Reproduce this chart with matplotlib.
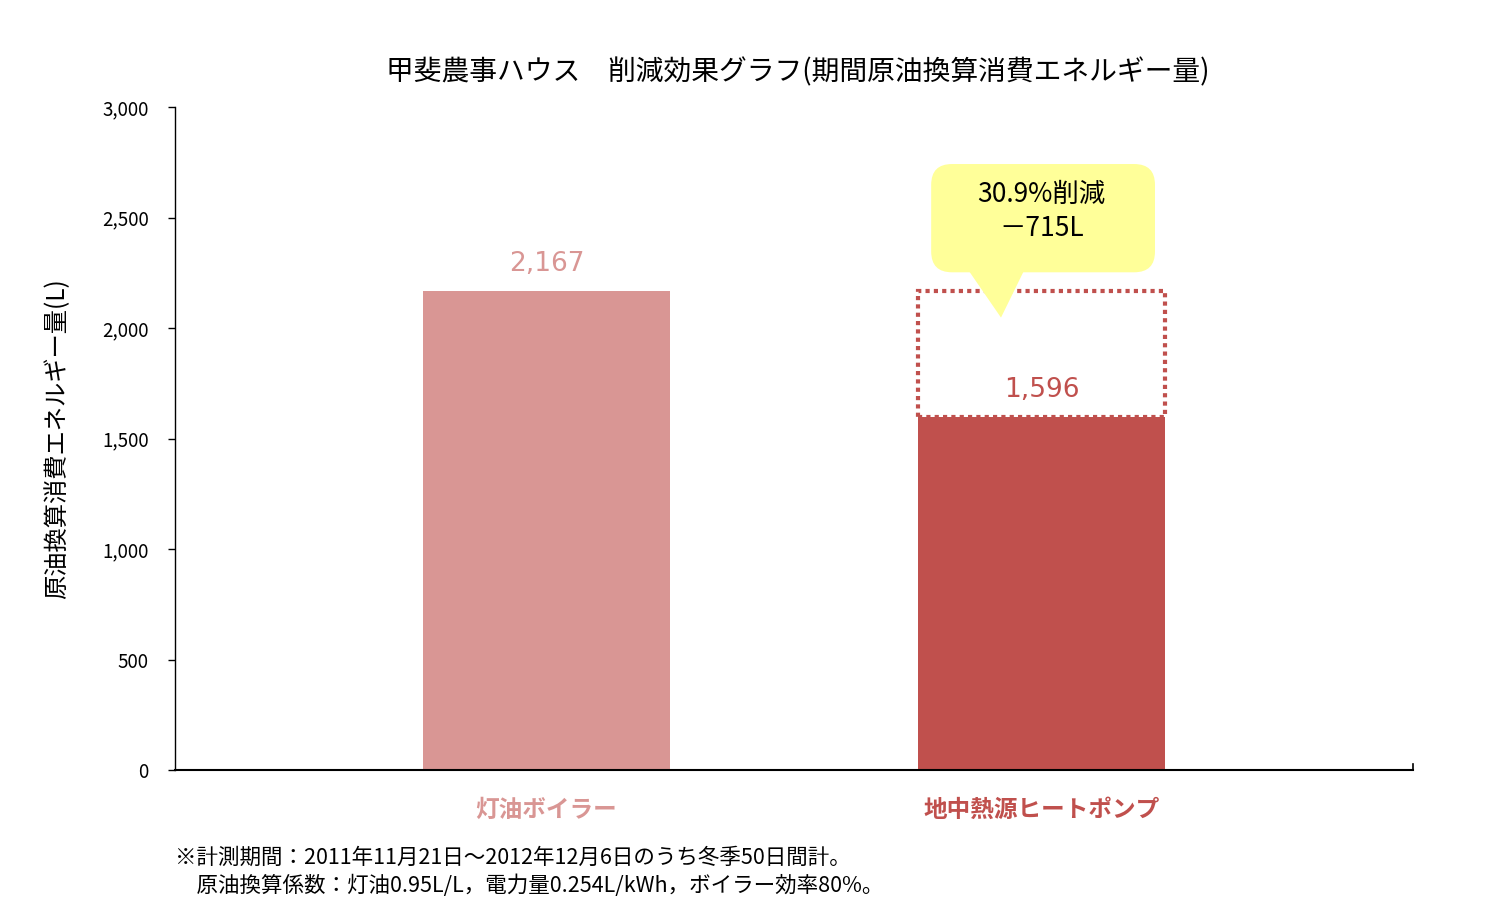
import matplotlib
matplotlib.use('Agg')
import matplotlib.pyplot as plt
from matplotlib.patches import Rectangle, FancyBboxPatch, Polygon
from matplotlib.ticker import FuncFormatter

plt.rcParams['font.family'] = ['Noto Sans CJK JP', 'DejaVu Sans']

# data
categories = ['灯油ボイラー', '地中熱源ヒートポンプ']
values = [2167, 1596]
bar_colors = ['#D99694', '#C0504D']
reduction_pct = 30.9
reduction_l = 715

title = '甲斐農事ハウス　削減効果グラフ(期間原油換算消費エネルギー量)'
ylabel = '原油換算消費エネルギー量(L)'
notes = ['※計測期間：2011年11月21日～2012年12月6日のうち冬季50日間計。',
         '　原油換算係数：灯油0.95L/L，電力量0.254L/kWh，ボイラー効率80%。']

fig = plt.figure(figsize=(15.11, 9.22), dpi=100)
ax = fig.add_axes([175/1511, 1-770/922, 1238/1511, 663/922])

x = list(range(len(categories)))
bw = 0.5
ax.bar(x, values, width=bw, color=bar_colors, zorder=2)

ax.set_xlim(-0.75, 1.75)
ax.set_ylim(0, 3000)
ax.set_yticks(range(0, 3001, 500))
ax.yaxis.set_major_formatter(FuncFormatter(lambda v, p: f'{int(v):,}'))
ax.tick_params(axis='y', direction='out', length=5, width=1, labelsize=13.5, pad=14)
ax.set_xticks([])
for s in ['top', 'right']:
    ax.spines[s].set_visible(False)
ax.spines['left'].set_linewidth(1)
ax.spines['bottom'].set_linewidth(1.5)
# small tick at right end of category axis
ax.plot([1.75, 1.75], [0, 25], color='black', lw=1.2, clip_on=False)

# value labels
for xi, v, c in zip(x, values, bar_colors):
    ax.annotate(f'{v:,}', (xi, v), xytext=(0, 10), textcoords='offset points',
                ha='center', va='bottom', fontsize=19, color=c,
                family=['DejaVu Sans'])

# category labels
for xi, cat, c in zip(x, categories, bar_colors):
    ax.annotate(cat, (xi, 0), xytext=(0, -20), textcoords='offset points',
                ha='center', va='top', fontsize=17, color=c, fontweight='bold',
                annotation_clip=False)

# dotted outline for the original amount on bar 2
ax.add_patch(Rectangle((x[1] - bw/2, values[1]), bw, values[0] - values[1],
                       fill=False, edgecolor=bar_colors[1], lw=3.0,
                       linestyle=(0, (1, 1)), zorder=3))

# callout (rounded box + pointer)
bx0, bx1 = x[1] - 0.223, x[1] + 0.229
by0, by1 = values[0] + 85, values[0] + 575
aspect = (3000 / 663) / (2.5 / 1238)
ax.add_patch(FancyBboxPatch((bx0, by0), bx1 - bx0, by1 - by0,
                            boxstyle='round,pad=0,rounding_size=0.042',
                            mutation_aspect=aspect,
                            facecolor='#FFFF99', edgecolor='none', zorder=4))
ax.add_patch(Polygon([(x[1] - 0.148, by0 + 10), (x[1] - 0.035, by0 + 10),
                      (x[1] - 0.082, values[0] - 120)],
                     closed=True, facecolor='#FFFF99', edgecolor='none', zorder=4))
ax.text(x[1], (by0 + by1) / 2 + 30, f'{reduction_pct}%削減\n－{reduction_l}L',
        ha='center', va='center', fontsize=19, color='black', zorder=5,
        linespacing=1.3)

ax.set_ylabel(ylabel, fontsize=17.5)
ax.yaxis.set_label_coords(-105/1238, 0.5)

fig.text(798/1511, 1 - 72/922, title, ha='center', va='center', fontsize=20)
fig.text(175/1511, 1 - 858/922, notes[0], ha='left', va='center', fontsize=15.5)
fig.text(175/1511, 1 - 886/922, notes[1], ha='left', va='center', fontsize=15.5)

fig.savefig('out.png', dpi=100)
